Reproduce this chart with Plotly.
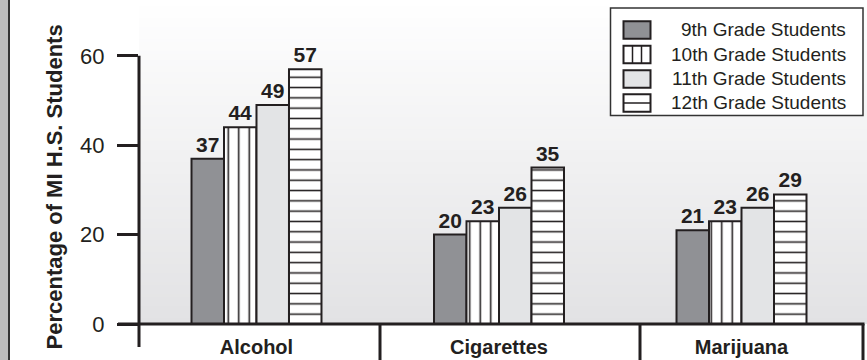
import plotly.graph_objects as go

# Substance-use survey: share of Michigan high-school students by grade
categories = ["Alcohol", "Cigarettes", "Marijuana"]
grades = ["9th Grade Students", "10th Grade Students",
          "11th Grade Students", "12th Grade Students"]
grade9 = [37, 20, 21]
grade10 = [44, 23, 23]
grade11 = [49, 26, 26]
grade12 = [57, 35, 29]
y_ticks = [0, 20, 40, 60]
y_title = "Percentage of MI H.S. Students"

series = [grade9, grade10, grade11, grade12]

INK = "#231f20"
FONT = "Liberation Sans, Arial, sans-serif"

# figure geometry (pixels) and helpers to convert to paper coordinates
W, H = 867, 360
L, R, T, B = 139, 0, 0, 36
PW, PH = W - L - R, H - T - B
YMAX = 72.5


def px(x):
    return (x - L) / PW


def py(y):
    return (H - B - y) / PH


styles = [
    dict(color="#909195"),
    dict(color="white", pattern=dict(shape="|", size=10.5, solidity=0.15,
                                     fgcolor=INK, bgcolor="white", fillmode="replace")),
    dict(color="#e3e4e6"),
    dict(color="white", pattern=dict(shape="-", size=10.3, solidity=0.15,
                                     fgcolor=INK, bgcolor="white", fillmode="replace")),
]

fig = go.Figure()
for name, vals, st in zip(grades, series, styles):
    marker = dict(line=dict(color=INK, width=2), **st)
    fig.add_trace(go.Bar(
        x=categories, y=vals, name=name, marker=marker,
        texttemplate="%{y}", textposition="outside", constraintext="none",
        textfont=dict(family=FONT, size=21, color=INK, weight="bold"),
        cliponaxis=False, showlegend=False,
    ))

shapes = []

# soft vertical gradient behind the bars
n_bands = 108
top_c, bot_c = (255, 255, 255), (226, 226, 228)
for i in range(n_bands):
    t = (i + 0.5) / n_bands
    c = tuple(round(b + (a - b) * t) for a, b in zip(top_c, bot_c))
    shapes.append(dict(type="rect", xref="paper", yref="paper",
                       x0=0, x1=1, y0=i / n_bands, y1=(i + 1) / n_bands,
                       fillcolor="rgb(%d,%d,%d)" % c, line=dict(width=0),
                       layer="below"))

# gray strip on the far left
shapes.append(dict(type="rect", xref="paper", yref="paper",
                   x0=px(0), x1=px(8), y0=py(H + 2), y1=py(-2),
                   fillcolor="#bcbcbc", line=dict(width=0)))
shapes.append(dict(type="line", xref="paper", yref="paper",
                   x0=px(9), x1=px(9), y0=py(H + 2), y1=py(-2),
                   line=dict(color="#333333", width=2)))

# axis frame: y spine, baseline and category separators
shapes.append(dict(type="line", xref="paper", yref="paper",
                   x0=0, x1=0, y0=py(347), y1=y_ticks[-1] / YMAX,
                   line=dict(color=INK, width=3)))
shapes.append(dict(type="line", xref="paper", yref="paper",
                   x0=px(118), x1=px(864.5), y0=0, y1=0,
                   line=dict(color=INK, width=3)))
for sx in (380, 640, 863):
    shapes.append(dict(type="line", xref="paper", yref="paper",
                       x0=px(sx), x1=px(sx), y0=py(H + 2), y1=0,
                       line=dict(color=INK, width=3)))

# legend box with hand-drawn swatches
shapes.append(dict(type="rect", xref="paper", yref="paper",
                   x0=px(610.5), x1=px(863), y0=py(115.5), y1=py(8),
                   fillcolor="white", line=dict(color="#333333", width=1.5)))
annotations = []
row_y = [30, 54.5, 79, 103]
sw_x0, sw_x1, sw_h = 623.5, 650.5, 17.5
for k, (name, st) in enumerate(zip(grades, styles)):
    cy = row_y[k]
    fill = st["color"]
    shapes.append(dict(type="rect", xref="paper", yref="paper",
                       x0=px(sw_x0), x1=px(sw_x1),
                       y0=py(cy + sw_h / 2), y1=py(cy - sw_h / 2),
                       fillcolor=fill, line=dict(color=INK, width=2)))
    if k == 1:
        for f in (1 / 3, 2 / 3):
            xx = sw_x0 + (sw_x1 - sw_x0) * f
            shapes.append(dict(type="line", xref="paper", yref="paper",
                               x0=px(xx), x1=px(xx),
                               y0=py(cy + sw_h / 2), y1=py(cy - sw_h / 2),
                               line=dict(color=INK, width=1.5)))
    if k == 3:
        shapes.append(dict(type="line", xref="paper", yref="paper",
                           x0=px(sw_x0), x1=px(sw_x1), y0=py(cy), y1=py(cy),
                           line=dict(color=INK, width=1.5)))
    annotations.append(dict(text=name, xref="paper", yref="paper",
                            x=px(848), y=py(cy), xanchor="right", yanchor="middle",
                            showarrow=False,
                            font=dict(family=FONT, size=19, color=INK)))

# rotated y-axis title
annotations.append(dict(text=y_title, xref="paper", yref="paper",
                        x=px(54), y=py(187.5), xanchor="center", yanchor="middle",
                        textangle=-90, showarrow=False,
                        font=dict(family=FONT, size=22, color=INK, weight="bold")))

fig.update_layout(
    template="none",
    width=W, height=H,
    margin=dict(l=L, r=R, t=T, b=B, pad=0),
    paper_bgcolor="white", plot_bgcolor="rgba(0,0,0,0)",
    barmode="group", bargap=0.464, bargroupgap=0,
    showlegend=False,
    shapes=shapes, annotations=annotations,
    xaxis=dict(range=[-0.4845, 2.5175], showline=False, showgrid=False,
               zeroline=False, ticks="", automargin=False,
               ticklabelstandoff=9,
               tickfont=dict(family=FONT, size=20, color=INK, weight="bold")),
    yaxis=dict(range=[0, YMAX], tickvals=y_ticks, showline=False, showgrid=False,
               zeroline=False, ticks="outside", ticklen=21, tickwidth=3,
               tickcolor=INK, automargin=False, ticklabelstandoff=8,
               tickfont=dict(family=FONT, size=22, color=INK)),
)

fig.write_html("out.html")
